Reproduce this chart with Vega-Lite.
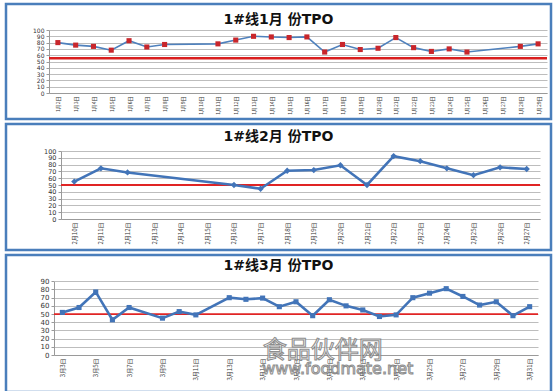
{
  "$schema": "https://vega.github.io/schema/vega-lite/v6.json",
  "background": "white",
  "padding": {"left": 4, "top": 2, "right": 0, "bottom": 0},
  "spacing": 1,
  "datasets": {
    "p1": [
      {"day": 2, "tpo": 80}, {"day": 3, "tpo": 76}, {"day": 4, "tpo": 74}, {"day": 5, "tpo": 68},
      {"day": 6, "tpo": 83}, {"day": 7, "tpo": 73}, {"day": 8, "tpo": 77}, {"day": 11, "tpo": 78},
      {"day": 12, "tpo": 84}, {"day": 13, "tpo": 90}, {"day": 14, "tpo": 89}, {"day": 15, "tpo": 88},
      {"day": 16, "tpo": 89}, {"day": 17, "tpo": 65}, {"day": 18, "tpo": 77}, {"day": 19, "tpo": 69},
      {"day": 20, "tpo": 71}, {"day": 21, "tpo": 88}, {"day": 22, "tpo": 72}, {"day": 23, "tpo": 66},
      {"day": 24, "tpo": 70}, {"day": 25, "tpo": 65}, {"day": 28, "tpo": 74}, {"day": 29, "tpo": 78}
    ],
    "p2": [
      {"day": 10, "tpo": 55}, {"day": 11, "tpo": 74.5}, {"day": 12, "tpo": 68.5}, {"day": 16, "tpo": 50},
      {"day": 17, "tpo": 44.5}, {"day": 18, "tpo": 71}, {"day": 19, "tpo": 72}, {"day": 20, "tpo": 79},
      {"day": 21, "tpo": 50}, {"day": 22, "tpo": 92.5}, {"day": 23, "tpo": 85}, {"day": 24, "tpo": 74.5},
      {"day": 25, "tpo": 64.5}, {"day": 26, "tpo": 76}, {"day": 27, "tpo": 73.5}
    ],
    "p3": [
      {"day": 3, "tpo": 52}, {"day": 4, "tpo": 58}, {"day": 5, "tpo": 77}, {"day": 6, "tpo": 43},
      {"day": 7, "tpo": 58}, {"day": 9, "tpo": 45}, {"day": 10, "tpo": 53}, {"day": 11, "tpo": 49},
      {"day": 13, "tpo": 70}, {"day": 14, "tpo": 68}, {"day": 15, "tpo": 69.5}, {"day": 16, "tpo": 59},
      {"day": 17, "tpo": 65}, {"day": 18, "tpo": 48}, {"day": 19, "tpo": 67.5}, {"day": 20, "tpo": 60},
      {"day": 21, "tpo": 55}, {"day": 22, "tpo": 47}, {"day": 23, "tpo": 49}, {"day": 24, "tpo": 70},
      {"day": 25, "tpo": 75.5}, {"day": 26, "tpo": 81}, {"day": 27, "tpo": 71.5}, {"day": 28, "tpo": 61},
      {"day": 29, "tpo": 65}, {"day": 30, "tpo": 48}, {"day": 31, "tpo": 59}
    ],
    "lim1": [{"tpo": 55}],
    "lim2": [{"tpo": 50}],
    "lim3": [{"tpo": 50}],
    "wm1": [{"text": "食品伙伴网"}],
    "wm2": [{"text": "www.foodmate.net"}]
  },
  "vconcat": [
    {
      "width": 545,
      "height": 115,
      "title": {"text": "1#线1月 份TPO", "offset": -34, "baseline": "alphabetic"},
      "layer": [
        {
          "data": {"name": "lim1"},
          "mark": {"type": "rule", "color": "#d91e1e", "strokeWidth": 2.5},
          "encoding": {
            "x": {"datum": 1.5, "type": "quantitative",
              "scale": {"domain": [1.5, 29.5], "range": [43, 541], "nice": false, "zero": false},
              "axis": {"values": [2,3,4,5,6,7,8,9,10,11,12,13,14,15,16,17,18,19,20,21,22,23,24,25,26,27,28,29], "labelExpr": "'1月' + datum.value + '日'", "offset": -26, "labelFontSize": 5}},
            "x2": {"datum": 29.5},
            "y": {"field": "tpo", "type": "quantitative",
              "scale": {"domain": [0, 100], "range": [89, 26], "nice": false},
              "axis": {"values": [0,10,20,30,40,50,60,70,80,90,100], "offset": -43, "labelFontSize": 6}}
          }
        },
        {
          "data": {"name": "p1"},
          "mark": {"type": "line", "color": "#4f81bd", "strokeWidth": 1.6},
          "encoding": {
            "x": {"field": "day", "type": "quantitative",
              "scale": {"domain": [1.5, 29.5], "range": [43, 541], "nice": false, "zero": false},
              "axis": {"values": [2,3,4,5,6,7,8,9,10,11,12,13,14,15,16,17,18,19,20,21,22,23,24,25,26,27,28,29], "labelExpr": "'1月' + datum.value + '日'", "offset": -26, "labelFontSize": 5}},
            "y": {"field": "tpo", "type": "quantitative",
              "scale": {"domain": [0, 100], "range": [89, 26], "nice": false},
              "axis": {"values": [0,10,20,30,40,50,60,70,80,90,100], "offset": -43, "labelFontSize": 6}}
          }
        },
        {
          "data": {"name": "p1"},
          "mark": {"type": "point", "shape": "square", "filled": true, "color": "#c8262b", "size": 26, "opacity": 1},
          "encoding": {
            "x": {"field": "day", "type": "quantitative",
              "scale": {"domain": [1.5, 29.5], "range": [43, 541], "nice": false, "zero": false},
              "axis": {"values": [2,3,4,5,6,7,8,9,10,11,12,13,14,15,16,17,18,19,20,21,22,23,24,25,26,27,28,29], "labelExpr": "'1月' + datum.value + '日'", "offset": -26, "labelFontSize": 5}},
            "y": {"field": "tpo", "type": "quantitative",
              "scale": {"domain": [0, 100], "range": [89, 26], "nice": false},
              "axis": {"values": [0,10,20,30,40,50,60,70,80,90,100], "offset": -43, "labelFontSize": 6}}
          }
        }
      ]
    },
    {
      "width": 545,
      "height": 126,
      "title": {"text": "1#线2月 份TPO", "offset": -31, "baseline": "alphabetic"},
      "layer": [
        {
          "data": {"name": "lim2"},
          "mark": {"type": "rule", "color": "#e02424", "strokeWidth": 1.8},
          "encoding": {
            "x": {"datum": 9.5, "type": "quantitative",
              "scale": {"domain": [9.5, 27.5], "range": [55, 534], "nice": false, "zero": false},
              "axis": {"values": [10,11,12,13,14,15,16,17,18,19,20,21,22,23,24,25,26,27], "labelExpr": "'2月' + datum.value + '日'", "offset": -31, "labelFontSize": 6}},
            "x2": {"datum": 27.5},
            "y": {"field": "tpo", "type": "quantitative",
              "scale": {"domain": [0, 100], "range": [95, 27], "nice": false},
              "axis": {"values": [0,10,20,30,40,50,60,70,80,90,100], "offset": -55, "labelFontSize": 6.5}}
          }
        },
        {
          "data": {"name": "p2"},
          "mark": {"type": "line", "color": "#4274b8", "strokeWidth": 2.6},
          "encoding": {
            "x": {"field": "day", "type": "quantitative",
              "scale": {"domain": [9.5, 27.5], "range": [55, 534], "nice": false, "zero": false},
              "axis": {"values": [10,11,12,13,14,15,16,17,18,19,20,21,22,23,24,25,26,27], "labelExpr": "'2月' + datum.value + '日'", "offset": -31, "labelFontSize": 6}},
            "y": {"field": "tpo", "type": "quantitative",
              "scale": {"domain": [0, 100], "range": [95, 27], "nice": false},
              "axis": {"values": [0,10,20,30,40,50,60,70,80,90,100], "offset": -55, "labelFontSize": 6.5}}
          }
        },
        {
          "data": {"name": "p2"},
          "mark": {"type": "point", "shape": "diamond", "filled": true, "color": "#4274b8", "size": 40, "opacity": 1},
          "encoding": {
            "x": {"field": "day", "type": "quantitative",
              "scale": {"domain": [9.5, 27.5], "range": [55, 534], "nice": false, "zero": false},
              "axis": {"values": [10,11,12,13,14,15,16,17,18,19,20,21,22,23,24,25,26,27], "labelExpr": "'2月' + datum.value + '日'", "offset": -31, "labelFontSize": 6}},
            "y": {"field": "tpo", "type": "quantitative",
              "scale": {"domain": [0, 100], "range": [95, 27], "nice": false},
              "axis": {"values": [0,10,20,30,40,50,60,70,80,90,100], "offset": -55, "labelFontSize": 6.5}}
          }
        }
      ]
    },
    {
      "width": 545,
      "height": 137,
      "title": {"text": "1#线3月 份TPO", "offset": -29, "baseline": "alphabetic"},
      "layer": [
        {
          "data": {"name": "lim3"},
          "mark": {"type": "rule", "color": "#e02424", "strokeWidth": 1.8},
          "encoding": {
            "x": {"datum": 2.5, "type": "quantitative",
              "scale": {"domain": [2.5, 31.5], "range": [48, 532], "nice": false, "zero": false},
              "axis": {"values": [3,5,7,9,11,13,15,17,19,21,23,25,27,29,31], "labelExpr": "'3月' + datum.value + '日'", "offset": -37, "labelFontSize": 6}},
            "x2": {"datum": 31.5},
            "y": {"field": "tpo", "type": "quantitative",
              "scale": {"domain": [0, 90], "range": [100, 26.3], "nice": false},
              "axis": {"values": [0,10,20,30,40,50,60,70,80,90], "offset": -48, "labelFontSize": 7}}
          }
        },
        {
          "data": {"name": "p3"},
          "mark": {"type": "line", "color": "#4274b8", "strokeWidth": 2.6},
          "encoding": {
            "x": {"field": "day", "type": "quantitative",
              "scale": {"domain": [2.5, 31.5], "range": [48, 532], "nice": false, "zero": false},
              "axis": {"values": [3,5,7,9,11,13,15,17,19,21,23,25,27,29,31], "labelExpr": "'3月' + datum.value + '日'", "offset": -37, "labelFontSize": 6}},
            "y": {"field": "tpo", "type": "quantitative",
              "scale": {"domain": [0, 90], "range": [100, 26.3], "nice": false},
              "axis": {"values": [0,10,20,30,40,50,60,70,80,90], "offset": -48, "labelFontSize": 7}}
          }
        },
        {
          "data": {"name": "p3"},
          "mark": {"type": "point", "shape": "square", "filled": true, "color": "#4274b8", "size": 26, "opacity": 1},
          "encoding": {
            "x": {"field": "day", "type": "quantitative",
              "scale": {"domain": [2.5, 31.5], "range": [48, 532], "nice": false, "zero": false},
              "axis": {"values": [3,5,7,9,11,13,15,17,19,21,23,25,27,29,31], "labelExpr": "'3月' + datum.value + '日'", "offset": -37, "labelFontSize": 6}},
            "y": {"field": "tpo", "type": "quantitative",
              "scale": {"domain": [0, 90], "range": [100, 26.3], "nice": false},
              "axis": {"values": [0,10,20,30,40,50,60,70,80,90], "offset": -48, "labelFontSize": 7}}
          }
        },
        {
          "data": {"name": "wm1"},
          "mark": {"type": "text", "font": "Noto Sans CJK SC", "fontSize": 24, "fill": "#f2f2f2", "stroke": "#7a7a7a", "strokeWidth": 1, "align": "center", "baseline": "middle", "opacity": 0.85},
          "encoding": {
            "x": {"datum": 18.6, "type": "quantitative",
              "scale": {"domain": [2.5, 31.5], "range": [48, 532], "nice": false, "zero": false},
              "axis": {"values": [3,5,7,9,11,13,15,17,19,21,23,25,27,29,31], "labelExpr": "'3月' + datum.value + '日'", "offset": -37, "labelFontSize": 6}},
            "y": {"datum": 5, "type": "quantitative",
              "scale": {"domain": [0, 90], "range": [100, 26.3], "nice": false},
              "axis": {"values": [0,10,20,30,40,50,60,70,80,90], "offset": -48, "labelFontSize": 7}},
            "text": {"field": "text", "type": "nominal"}
          }
        },
        {
          "data": {"name": "wm2"},
          "mark": {"type": "text", "font": "DejaVu Sans", "fontSize": 16, "fill": "#f2f2f2", "stroke": "#7a7a7a", "strokeWidth": 1, "align": "center", "baseline": "middle", "opacity": 0.85},
          "encoding": {
            "x": {"datum": 19.5, "type": "quantitative",
              "scale": {"domain": [2.5, 31.5], "range": [48, 532], "nice": false, "zero": false},
              "axis": {"values": [3,5,7,9,11,13,15,17,19,21,23,25,27,29,31], "labelExpr": "'3月' + datum.value + '日'", "offset": -37, "labelFontSize": 6}},
            "y": {"datum": -17, "type": "quantitative",
              "scale": {"domain": [0, 90], "range": [100, 26.3], "nice": false},
              "axis": {"values": [0,10,20,30,40,50,60,70,80,90], "offset": -48, "labelFontSize": 7}},
            "text": {"field": "text", "type": "nominal"}
          }
        }
      ]
    }
  ],
  "config": {
    "view": {"stroke": "#4a7ebb", "strokeWidth": 2.5, "fill": "white"},
    "title": {"font": "DejaVu Sans, Noto Sans CJK SC", "fontSize": 14, "fontWeight": "bold", "color": "#111111", "anchor": "middle", "frame": "group"},
    "axisX": {
      "title": null, "grid": false, "ticks": false, "labelAngle": -90, "labelFont": "Noto Sans CJK SC",
      "labelColor": "#333333", "labelPadding": 3, "labelOverlap": false, "labelFlush": false,
      "domainColor": "#9a9a9a", "domainWidth": 1
    },
    "axisY": {
      "title": null, "grid": true, "gridColor": "#bdbdbd", "gridWidth": 1, "tickSize": 3, "tickColor": "#9a9a9a",
      "labelFont": "DejaVu Sans", "labelColor": "#333333", "labelPadding": 2,
      "labelOverlap": false, "labelFlush": false, "domainColor": "#9a9a9a", "domainWidth": 1
    }
  }
}
